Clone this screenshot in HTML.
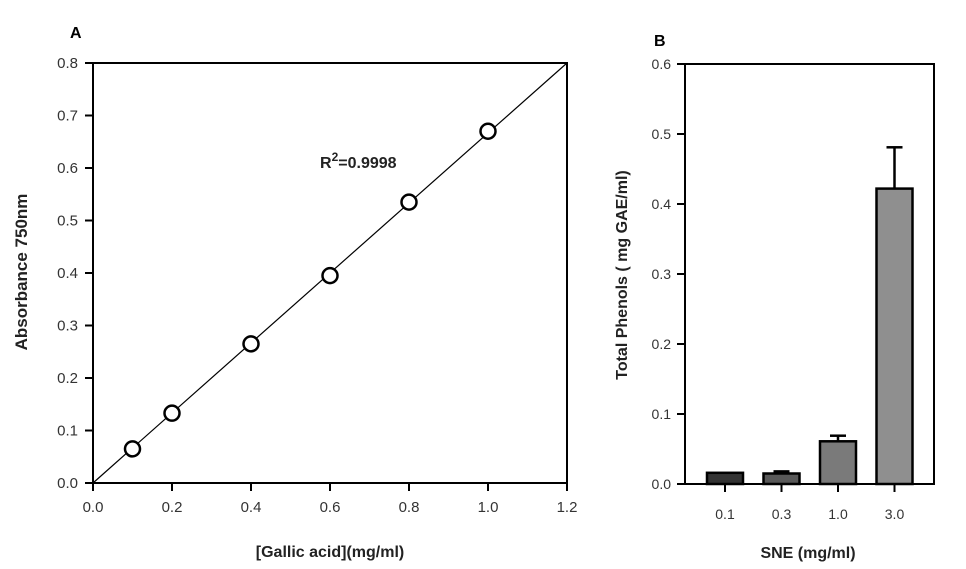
<!DOCTYPE html>
<html><head><meta charset="utf-8"><style>
html,body{margin:0;padding:0;background:#fff;}
svg{display:block;font-family:"Liberation Sans",Arial,sans-serif;}
</style></head><body>
<svg id="chart" width="966" height="569">
<g id="A"></g>
<g id="B"></g>
</svg>
<script>
const NS='http://www.w3.org/2000/svg';
// Panel A data
const aX=[0.1,0.2,0.4,0.6,0.8,1.0];
const aY=[0.065,0.133,0.265,0.395,0.535,0.67];
const aXTicks=[0,0.2,0.4,0.6,0.8,1.0,1.2];
const aYTicks=[0,0.1,0.2,0.3,0.4,0.5,0.6,0.7,0.8];
const aFit=[0,1.2];
const aFitY=[0,0.8];
// Panel B data
const bCats=['0.1','0.3','1.0','3.0'];
const bVals=[0.016,0.015,0.061,0.422];
const bErr=[0,0.003,0.008,0.059];
const bYTicks=[0,0.1,0.2,0.3,0.4,0.5,0.6];
const bColors=['#333333','#595959','#7a7a7a','#8f8f8f'];

function el(p,t,a,txt){const e=document.createElementNS(NS,t);for(const k in a)e.setAttribute(k,a[k]);if(txt!=null)e.textContent=txt;p.appendChild(e);return e;}
const A=document.getElementById('A'),B=document.getElementById('B');
const axL=93,axR=567,ayT=63,ayB=483;
const ax=v=>axL+(v-0)/1.2*(axR-axL), ay=v=>ayB-v/0.8*(ayB-ayT);
let r=el(A,'rect',{x:axL,y:ayT,width:axR-axL,height:ayB-ayT,fill:'none',stroke:'#000','stroke-width':2});

aXTicks.forEach(t=>{const x=ax(t);
 let l=el(A,'line',{x1:x,x2:x,y1:ayB,y2:ayB+8,stroke:'#000','stroke-width':2});
 
 let tx=el(A,'text',{x:x,y:ayB+29,'text-anchor':'middle','font-size':15,fill:'#333'},t.toFixed(1));
 });
aYTicks.forEach(t=>{const y=ay(t);
 let l=el(A,'line',{x1:axL-8,x2:axL,y1:y,y2:y,stroke:'#000','stroke-width':2});
 
 let tx=el(A,'text',{x:axL-15,y:y+5,'text-anchor':'end','font-size':15,fill:'#333'},t.toFixed(1));
 });
let fl=el(A,'line',{x1:ax(aFit[0]),y1:ay(aFitY[0]),x2:ax(aFit[1]),y2:ay(aFitY[1]),stroke:'#000','stroke-width':1.2});

aX.forEach((v,i)=>{let c=el(A,'circle',{cx:ax(v),cy:ay(aY[i]),r:7.5,fill:'#fff',stroke:'#000','stroke-width':2.5});
 });
let t;
t=el(A,'text',{x:70,y:38,'font-size':16,'font-weight':'bold'},'A');
t=el(A,'text',{x:320,y:168,'font-size':16,'font-weight':'bold',fill:'#222'});
t.innerHTML='R<tspan dy="-7" font-size="12">2</tspan><tspan dy="7">=0.9998</tspan>';
t=el(A,'text',{x:330,y:557,'text-anchor':'middle','font-size':16,'font-weight':'bold',fill:'#222'},'[Gallic acid](mg/ml)');
t=el(A,'text',{x:0,y:0,'text-anchor':'middle','font-size':17,'font-weight':'bold',fill:'#222',transform:'translate(27,272) rotate(-90)'},'Absorbance 750nm');

const bxL=685,bxR=934,byT=64,byB=484;
const by=v=>byB-v/0.6*(byB-byT);
const bx=i=>725+i*56.5;
const bw=36;
r=el(B,'rect',{x:bxL,y:byT,width:bxR-bxL,height:byB-byT,fill:'none',stroke:'#000','stroke-width':2});

bYTicks.forEach(tk=>{const y=by(tk);
 let l=el(B,'line',{x1:bxL-8,x2:bxL,y1:y,y2:y,stroke:'#000','stroke-width':2});
 
 let tx=el(B,'text',{x:bxL-14,y:y+5,'text-anchor':'end','font-size':14,fill:'#333'},tk.toFixed(1));
 });
bCats.forEach((c,i)=>{const x=bx(i);
 let l=el(B,'line',{x1:x,x2:x,y1:byB,y2:byB+8,stroke:'#000','stroke-width':2});
 
 let tx=el(B,'text',{x:x,y:519,'text-anchor':'middle','font-size':14,fill:'#333'},c);
 
 const top=by(bVals[i]+bErr[i]);
 if(bErr[i]>0){
  let e=el(B,'line',{x1:x,x2:x,y1:top,y2:by(bVals[i]),stroke:'#000','stroke-width':2.5});
  
  let cap=el(B,'line',{x1:x-8,x2:x+8,y1:top,y2:top,stroke:'#000','stroke-width':2.5});
  }
 let b=el(B,'rect',{x:x-bw/2,y:by(bVals[i]),width:bw,height:byB-by(bVals[i]),fill:bColors[i],stroke:'#000','stroke-width':2.5});
 });
t=el(B,'text',{x:654,y:46,'font-size':16,'font-weight':'bold'},'B');
t=el(B,'text',{x:808,y:558,'text-anchor':'middle','font-size':16,'font-weight':'bold',fill:'#222'},'SNE (mg/ml)');
t=el(B,'text',{x:0,y:0,'text-anchor':'middle','font-size':16,'font-weight':'bold',fill:'#222',transform:'translate(627,275) rotate(-90)'},'Total Phenols ( mg GAE/ml)');
</script>
</body></html>
